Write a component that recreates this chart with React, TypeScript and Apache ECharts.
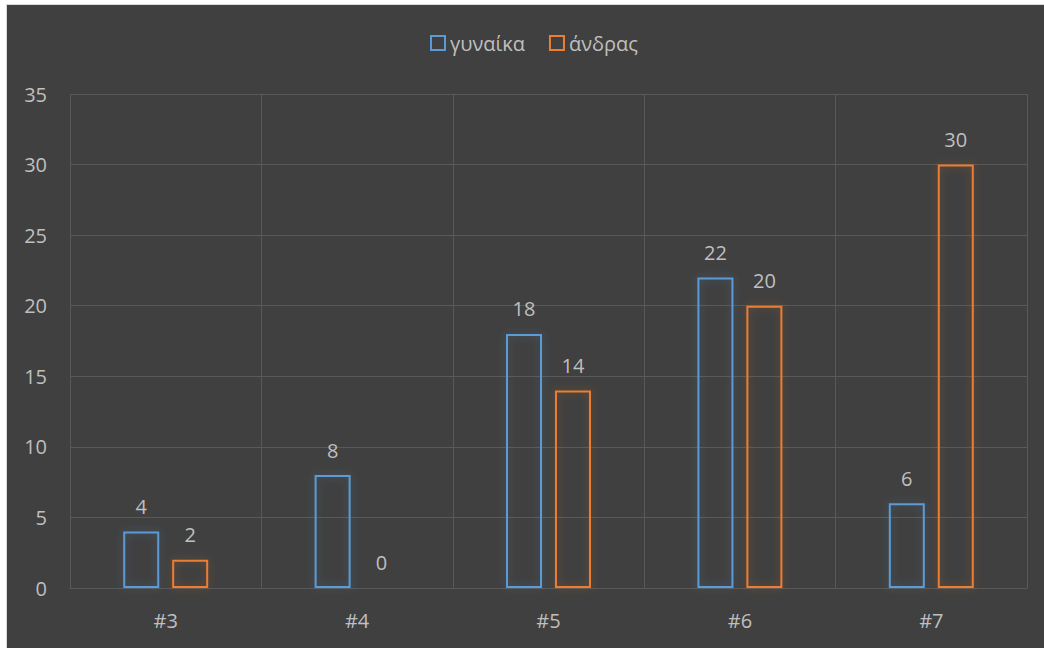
import React, { useEffect, useRef } from "react";
import * as echarts from "echarts";

const categories = ["#3", "#4", "#5", "#6", "#7"];
const women = [4, 8, 18, 22, 6];
const men = [2, 0, 14, 20, 30];
const seriesNames = ["γυναίκα", "άνδρας"];

export default function App() {
  const ref = useRef<HTMLDivElement>(null);
  useEffect(() => {
    if (!ref.current) return;
    const chart = echarts.init(ref.current, null, { renderer: "svg" });
    const font = "'Open Sans', 'Noto Sans', sans-serif";
    const txt = "#bfbfbf";
    const fs = 20;
    const mk = (name: string, data: number[], color: string, glow: string) => ({
      name,
      type: "bar",
      data,
      barWidth: 36,
      barGap: "36%",
      itemStyle: {
        color: "rgba(64,64,64,0)",
        borderColor: color,
        borderWidth: 2,
        shadowBlur: 8,
        shadowColor: glow,
      },
      label: {
        show: true,
        position: "top",
        distance: 15,
        color: txt,
        fontSize: fs,
        fontFamily: font,
      },
    });
    chart.setOption({
      animation: false,
      backgroundColor: "#404040",
      legend: {
        top: 28,
        left: 423,
        padding: 0,
        icon: "rect",
        itemWidth: 14,
        itemHeight: 14,
        itemGap: 24,
        textStyle: { color: txt, fontSize: fs, fontFamily: font },
      },
      grid: { left: 63, right: 17, top: 89, bottom: 60, containLabel: false },
      xAxis: {
        type: "category",
        data: categories,
        axisLine: { show: true, lineStyle: { color: "#595959", width: 1 } },
        axisTick: { show: false },
        axisLabel: { color: txt, fontSize: fs, fontFamily: font, margin: 22 },
        splitLine: { show: true, lineStyle: { color: "#595959", width: 1 } },
      },
      yAxis: {
        type: "value",
        min: 0,
        max: 35,
        interval: 5,
        axisLine: { show: false },
        axisTick: { show: false },
        axisLabel: { color: txt, fontSize: fs, fontFamily: font, margin: 23 },
        splitLine: { show: true, lineStyle: { color: "#595959", width: 1 } },
      },
      series: [
        mk(seriesNames[0], women, "#5b9bd5", "rgba(91,155,213,0.35)"),
        mk(seriesNames[1], men, "#ed7d31", "rgba(237,125,49,0.35)"),
      ],
    });
    return () => chart.dispose();
  }, []);
  return (
    <div
      style={{
        position: "fixed",
        left: 0,
        top: 0,
        width: 1044,
        height: 648,
        background: "#ffffff",
      }}
    >
      <div
        style={{
          position: "absolute",
          left: 6,
          top: 4,
          width: 1038,
          height: 644,
          background: "#d9d9d9",
        }}
      />
      <div
        ref={ref}
        style={{ position: "absolute", left: 7, top: 5, width: 1037, height: 643 }}
      />
    </div>
  );
}
